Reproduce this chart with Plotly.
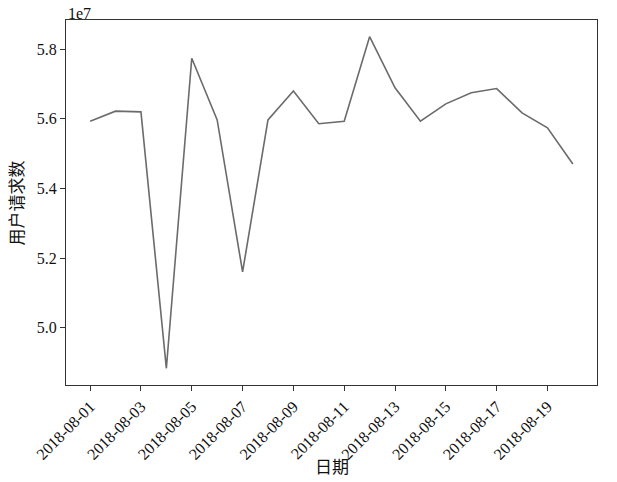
import plotly.graph_objects as go

dates = ["2018-08-01", "2018-08-02", "2018-08-03", "2018-08-04", "2018-08-05",
         "2018-08-06", "2018-08-07", "2018-08-08", "2018-08-09", "2018-08-10",
         "2018-08-11", "2018-08-12", "2018-08-13", "2018-08-14", "2018-08-15",
         "2018-08-16", "2018-08-17", "2018-08-18", "2018-08-19", "2018-08-20"]
requests = [55930000, 56220000, 56200000, 48830000, 57740000,
            55970000, 51600000, 55970000, 56800000, 55860000,
            55930000, 58360000, 56890000, 55930000, 56430000,
            56750000, 56870000, 56170000, 55740000, 54700000]
tick_dates = ["2018-08-01", "2018-08-03", "2018-08-05", "2018-08-07", "2018-08-09",
              "2018-08-11", "2018-08-13", "2018-08-15", "2018-08-17", "2018-08-19"]
y_ticks = [5.0, 5.2, 5.4, 5.6, 5.8]

scale = 1e7
y_scaled = [v / scale for v in requests]

FONT = "Liberation Serif, Noto Sans CJK SC, serif"
AX = "#333333"

fig = go.Figure()
fig.add_trace(go.Scatter(x=dates, y=y_scaled, mode="lines",
                         line=dict(color="#6b6b6b", width=1.6)))

fig.update_layout(
    width=617, height=482,
    margin=dict(l=66, r=20, t=20, b=97),
    paper_bgcolor="white", plot_bgcolor="white",
    font=dict(family=FONT, size=16, color="#111111"),
    showlegend=False,
    xaxis=dict(
        type="date", automargin=False,
        range=["2018-07-31 01:12", "2018-08-20 22:48"],
        tickvals=tick_dates, tickformat="%Y-%m-%d", tickangle=-45,
        ticks="outside", ticklen=5, tickcolor=AX, tickwidth=1,
        showline=True, linecolor=AX, linewidth=1, mirror=True,
        showgrid=False, zeroline=False,
        tickfont=dict(size=16),
    ),
    yaxis=dict(
        automargin=False,
        range=[4.835, 5.884],
        tickvals=y_ticks, tickformat=".1f",
        ticks="outside", ticklen=5, tickcolor=AX, tickwidth=1,
        showline=True, linecolor=AX, linewidth=1, mirror=True,
        showgrid=False, zeroline=False,
        tickfont=dict(size=16),
    ),
    annotations=[
        dict(text="1e7", x=0, y=1, xref="paper", yref="paper",
             xanchor="left", yanchor="bottom", showarrow=False,
             font=dict(size=16), yshift=-4),
        dict(text="日期", x=0.5, y=-0.2247, xref="paper", yref="paper",
             xanchor="center", yanchor="middle", showarrow=False,
             font=dict(size=17)),
        dict(text="用户请求数", x=-0.0904, y=0.5, xref="paper", yref="paper",
             xanchor="center", yanchor="middle", showarrow=False, textangle=-90,
             font=dict(size=17)),
    ],
)

fig.write_html("out.html",
               config={"displayModeBar": False, "staticPlot": True},
               post_script="document.body.style.margin='0';document.body.style.overflow='hidden';")
